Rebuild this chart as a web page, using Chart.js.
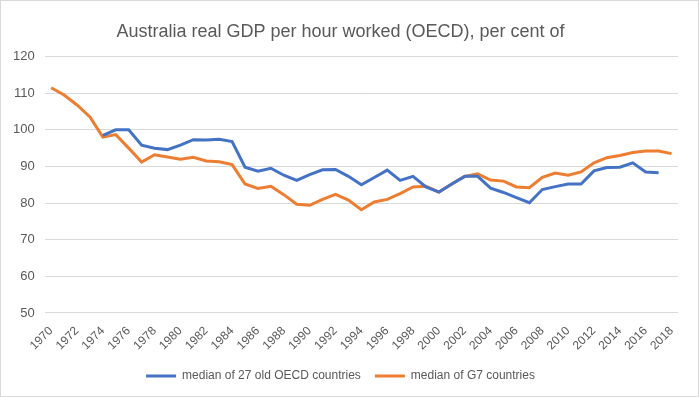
<!DOCTYPE html>
<html>
<head>
<meta charset="utf-8">
<script src="https://cdn.jsdelivr.net/npm/chart.js@4"></script>
<style>
  html, body { margin: 0; padding: 0; background: #fff; }
  #box { width: 699px; height: 397px; box-sizing: border-box; border: 1px solid #d9d9d9; }
</style>
</head>
<body>
<div id="box"><canvas id="chart" width="697" height="395"></canvas></div>
<script>
const years = [];
for (let y = 1970; y <= 2018; y++) years.push(String(y));

// median of 27 old OECD countries (starts 1974)
const oecd27 = [
  null, null, null, null, 98.5, 100.0, 100.0, 95.8, 95.0, 94.6,
  95.8, 97.3, 97.2, 97.4, 96.8, 89.8, 88.7, 89.5, 87.6, 86.2,
  87.8, 89.1, 89.2, 87.3, 85.0, 87.0, 89.0, 86.2, 87.3, 84.4,
  83.0, 85.2, 87.3, 87.3, 84.1, 82.9, 81.5, 80.1, 83.7, 84.5,
  85.2, 85.2, 88.8, 89.7, 89.8, 91.0, 88.5, 88.3, null
];

// median of G7 countries
const g7 = [
  111.5, 109.5, 106.8, 103.5, 98.0, 98.7, 95.0, 91.2, 93.2, 92.6,
  92.0, 92.5, 91.5, 91.3, 90.5, 85.2, 84.0, 84.6, 82.3, 79.7,
  79.4, 81.0, 82.4, 80.8, 78.2, 80.3, 81.0, 82.6, 84.4, 84.6,
  83.0, 85.2, 87.3, 88.0, 86.3, 86.0, 84.4, 84.2, 87.0, 88.2,
  87.6, 88.5, 91.0, 92.4, 93.0, 93.8, 94.2, 94.2, 93.5
];

const grey = "#595959";
Chart.defaults.font.family = "'Liberation Sans', Arial, sans-serif";
Chart.defaults.color = grey;

new Chart(document.getElementById("chart"), {
  type: "line",
  data: {
    labels: years,
    datasets: [
      { label: "median of 27 old OECD countries", data: oecd27, borderColor: "#4472c4", backgroundColor: "#4472c4", borderWidth: 3, pointRadius: 0, tension: 0 },
      { label: "median of G7 countries", data: g7, borderColor: "#ed7d31", backgroundColor: "#ed7d31", borderWidth: 3, pointRadius: 0, tension: 0 }
    ]
  },
  options: {
    responsive: false,
    animation: false,
    layout: { padding: { left: 2, right: 20, top: 4, bottom: 4 } },
    plugins: {
      title: {
        display: true,
        text: "Australia real GDP per hour worked (OECD), per cent of",
        font: { size: 18, weight: "normal" },
        color: grey,
        padding: { top: 16, bottom: 14 }
      },
      legend: {
        position: "bottom",
        labels: {
          usePointStyle: true,
          pointStyle: "line",
          pointStyleWidth: 30,
          font: { size: 12 },
          color: grey,
          padding: 14
        }
      },
      tooltip: { enabled: false }
    },
    scales: {
      x: {
        offset: true,
        grid: { display: false },
        border: { display: false },
        ticks: {
          autoSkip: false,
          maxRotation: 45,
          minRotation: 45,
          font: { size: 12 },
          color: grey,
          callback: function (v, i) { return i % 2 === 0 ? this.getLabelForValue(v) : ""; }
        }
      },
      y: {
        min: 50,
        max: 120,
        grid: { color: "#d9d9d9", lineWidth: 1, drawTicks: false },
        border: { display: false },
        ticks: { stepSize: 10, font: { size: 13 }, color: grey, padding: 10 }
      }
    }
  }
});
</script>
</body>
</html>
